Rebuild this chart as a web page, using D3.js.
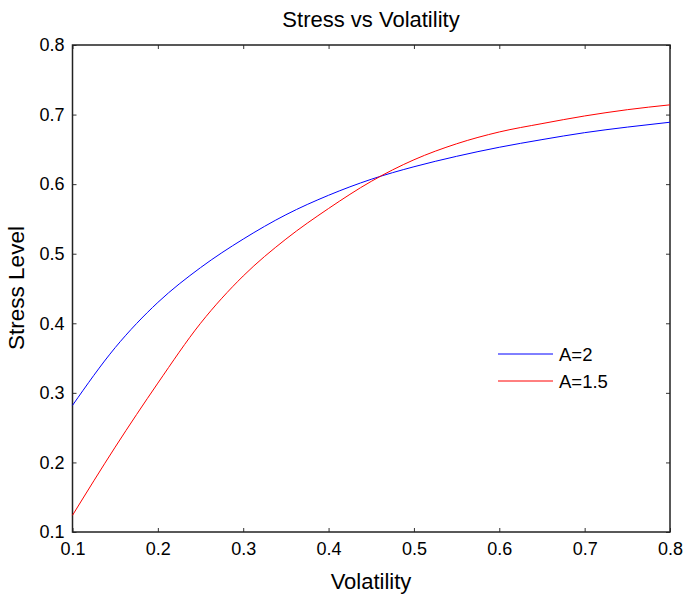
<!DOCTYPE html>
<html><head><meta charset="utf-8">
<script src="https://cdn.jsdelivr.net/npm/d3@7"></script>
<style>body{margin:0;background:#fff}svg{display:block}text{font-family:"Liberation Sans",Arial,sans-serif;fill:#000}</style>
</head><body><svg id="c" width="685" height="598"></svg>
<script>
const volatility = [0.10,0.15,0.20,0.25,0.30,0.35,0.40,0.45,0.50,0.55,0.60,0.65,0.70,0.75,0.80];
const stressA2   = [0.282,0.365,0.430,0.480,0.521,0.556,0.584,0.607,0.625,0.640,0.653,0.664,0.674,0.682,0.689];
const stressA15  = [0.124,0.222,0.314,0.400,0.468,0.521,0.565,0.604,0.635,0.658,0.675,0.687,0.698,0.707,0.714];
const seriesNames = ["A=2","A=1.5"];
const seriesColors = ["#0000ff","#ff0000"];
const xTicks = [0.1,0.2,0.3,0.4,0.5,0.6,0.7,0.8];
const yTicks = [0.1,0.2,0.3,0.4,0.5,0.6,0.7,0.8];

const svg = d3.select("#c");
const L=72.5,R=670,T=45,B=532;
const x = d3.scaleLinear().domain([0.1,0.8]).range([L,R]);
const y = d3.scaleLinear().domain([0.1,0.8]).range([B,T]);
const fmt = d3.format(".1f");

svg.append("g").attr("transform",`translate(0,${B})`)
  .call(d3.axisBottom(x).tickValues(xTicks).tickFormat(fmt).tickSizeInner(-4).tickSizeOuter(0).tickPadding(10))
  .call(g=>{g.select(".domain").remove();g.selectAll("text").attr("font-size",18).attr("font-family","Liberation Sans, Arial");});
svg.append("g").attr("transform",`translate(0,${T})`)
  .call(d3.axisTop(x).tickValues(xTicks).tickFormat("").tickSizeInner(-4).tickSizeOuter(0))
  .call(g=>g.select(".domain").remove());
svg.append("g").attr("transform",`translate(${L},0)`)
  .call(d3.axisLeft(y).tickValues(yTicks).tickFormat(fmt).tickSizeInner(-4).tickSizeOuter(0).tickPadding(8))
  .call(g=>{g.select(".domain").remove();g.selectAll("text").attr("font-size",18).attr("font-family","Liberation Sans, Arial");});
svg.append("g").attr("transform",`translate(${R},0)`)
  .call(d3.axisRight(y).tickValues(yTicks).tickFormat("").tickSizeInner(-4).tickSizeOuter(0))
  .call(g=>g.select(".domain").remove());
svg.selectAll(".tick line").attr("stroke","#333");
svg.append("rect").attr("x",L).attr("y",T).attr("width",R-L).attr("height",B-T)
  .attr("fill","none").attr("stroke","#222").attr("stroke-width",1.5);

const line = d3.line().x(d=>x(d[0])).y(d=>y(d[1])).curve(d3.curveMonotoneX);
[stressA2,stressA15].forEach((s,i)=>{
  svg.append("path").datum(volatility.map((v,j)=>[v,s[j]]))
    .attr("d",line).attr("fill","none").attr("stroke",seriesColors[i]).attr("stroke-width",1);
});

seriesNames.forEach((n,i)=>{
  const ly = 354 + i*27;
  svg.append("line").attr("x1",498).attr("x2",553).attr("y1",ly).attr("y2",ly)
    .attr("stroke",seriesColors[i]).attr("stroke-width",1);
  svg.append("text").attr("x",559).attr("y",ly+6.5).attr("font-size",18.5).text(n);
});

svg.append("text").attr("x",371).attr("y",27).attr("text-anchor","middle").attr("font-size",22).text("Stress vs Volatility");
svg.append("text").attr("x",371).attr("y",589).attr("text-anchor","middle").attr("font-size",22).text("Volatility");
svg.append("text").attr("transform","translate(24,288) rotate(-90)").attr("text-anchor","middle").attr("font-size",22.5).text("Stress Level");
</script></body></html>
